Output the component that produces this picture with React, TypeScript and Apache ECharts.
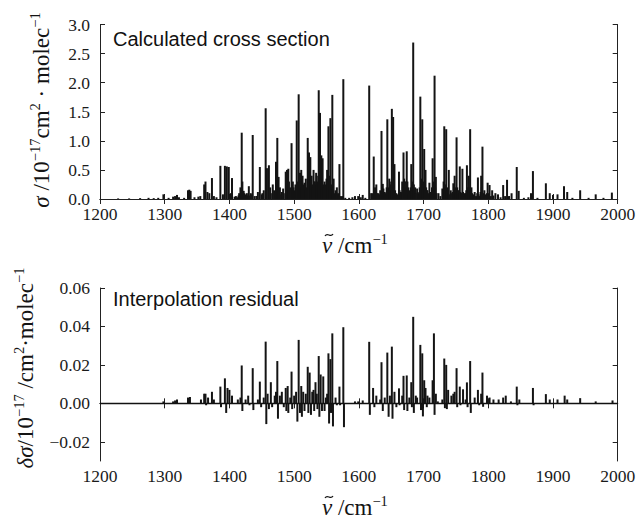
import React, { useEffect, useRef } from "react";
import * as echarts from "echarts";

// Calculated cross section sticks: [wavenumber / cm^-1, sigma / 1e-17 cm^2 molec^-1]
const crossSection: [number, number][] = [
  [1228, 0.01], [1245, 0.01], [1262, 0.015], [1275, 0.02], [1283, 0.015], [1290, 0.02], [1298, 0.08],
  [1306, 0.02], [1313, 0.04], [1316, 0.05], [1319, 0.07], [1322, 0.03], [1330, 0.02], [1336, 0.15],
  [1338, 0.16], [1340, 0.14], [1346, 0.03], [1352, 0.04], [1355, 0.05],
  [1361, 0.25], [1363, 0.3], [1366, 0.12], [1369, 0.1], [1373, 0.36], [1376, 0.05], [1380, 0.03],
  [1386, 0.57], [1390, 0.08], [1393, 0.57], [1396, 0.56], [1399, 0.55], [1402, 0.1], [1404, 0.36],
  [1408, 0.04], [1410, 0.05], [1412, 0.03], [1414, 0.06], [1415, 0.1], [1417, 0.2], [1419, 1.14],
  [1420, 0.3], [1422, 0.14], [1423, 0.1], [1425, 0.08], [1427, 0.1], [1428, 0.06], [1430, 0.22],
  [1432, 0.06], [1433, 0.1], [1435, 0.08], [1436, 1.1], [1439, 0.05], [1442, 0.05], [1444, 0.12],
  [1447, 0.55], [1450, 0.08], [1451, 0.1], [1453, 0.15], [1456, 1.56], [1458, 0.53], [1461, 0.58],
  [1463, 0.2], [1466, 0.1], [1467, 0.25], [1469, 0.15], [1472, 0.64], [1474, 1.05], [1476, 0.38],
  [1478, 0.2], [1480, 0.08], [1481, 0.12], [1483, 0.18], [1484, 0.1], [1487, 0.47], [1489, 0.5],
  [1491, 0.52], [1492, 0.3], [1494, 0.2], [1496, 0.96], [1498, 0.3], [1499, 0.2], [1501, 0.15],
  [1502, 0.25], [1504, 1.35], [1506, 0.3], [1507, 1.8], [1509, 0.45], [1510, 0.2], [1511, 0.5],
  [1512, 0.3], [1513, 0.4], [1515, 0.25], [1516, 0.28], [1517, 0.15], [1518, 0.35], [1519, 0.2],
  [1521, 1.05], [1522, 0.3], [1523, 0.8], [1525, 0.72], [1526, 0.35], [1527, 0.4], [1528, 0.25],
  [1529, 0.2], [1530, 0.5], [1531, 0.3], [1532, 0.3], [1533, 0.25], [1534, 0.45], [1535, 0.4],
  [1536, 0.3], [1537, 0.25], [1538, 1.87], [1539, 0.35], [1540, 1.48], [1541, 0.4], [1542, 0.75],
  [1543, 0.3], [1544, 0.7], [1545, 0.25], [1546, 0.2], [1547, 0.3], [1548, 0.15], [1549, 0.25],
  [1550, 0.35], [1551, 0.5], [1552, 0.3], [1553, 1.25], [1554, 0.4], [1555, 0.3], [1556, 1.39],
  [1557, 0.2], [1558, 0.25], [1559, 1.79], [1560, 0.2], [1561, 0.35], [1562, 0.1], [1564, 0.15],
  [1565, 0.12], [1566, 0.2], [1567, 0.08], [1568, 0.1], [1570, 0.6], [1571, 0.05], [1574, 0.05],
  [1576, 2.06], [1579, 0.02], [1585, 0.02], [1590, 0.03], [1594, 0.05], [1599, 0.05], [1603, 0.03],
  [1606, 0.07], [1610, 0.02], [1616, 1.95], [1619, 0.1], [1621, 0.1], [1623, 0.73], [1624, 0.15],
  [1625, 0.2], [1627, 0.25], [1628, 0.1], [1630, 0.1], [1632, 0.08], [1633, 0.15], [1635, 1.17],
  [1636, 0.2], [1637, 0.26], [1638, 0.18], [1640, 0.12], [1641, 0.1], [1643, 0.2], [1644, 1.37],
  [1645, 0.15], [1646, 0.2], [1647, 0.35], [1648, 0.25], [1649, 0.15], [1650, 0.3], [1651, 1.55],
  [1652, 0.3], [1653, 1.41], [1654, 0.2], [1655, 0.6], [1656, 0.15], [1658, 0.1], [1660, 0.08],
  [1662, 0.47], [1663, 0.15], [1665, 0.12], [1666, 0.1], [1667, 0.3], [1668, 0.2], [1669, 0.8],
  [1670, 0.35], [1671, 0.3], [1672, 0.2], [1673, 0.3], [1674, 0.82], [1675, 0.3], [1676, 0.2],
  [1677, 0.1], [1678, 0.15], [1680, 0.2], [1681, 0.6], [1682, 0.15], [1683, 0.3], [1684, 2.69],
  [1685, 0.25], [1686, 0.15], [1687, 0.2], [1688, 0.1], [1690, 0.18], [1691, 0.12], [1692, 0.1],
  [1694, 0.2], [1695, 1.76], [1696, 0.35], [1697, 0.3], [1698, 1.37], [1699, 0.25], [1700, 0.3],
  [1701, 0.86], [1702, 0.2], [1703, 0.5], [1704, 0.2], [1705, 0.15], [1706, 0.15], [1707, 0.1],
  [1709, 0.28], [1710, 0.1], [1711, 0.12], [1712, 0.08], [1713, 0.2], [1714, 0.7], [1715, 0.3],
  [1717, 2.12], [1718, 0.2], [1719, 0.38], [1720, 0.1], [1723, 0.1], [1726, 0.05], [1729, 0.18],
  [1730, 0.12], [1731, 0.3], [1732, 1.25], [1733, 0.25], [1734, 0.2], [1735, 1.2], [1736, 0.15],
  [1737, 0.2], [1738, 0.1], [1739, 0.5], [1741, 0.08], [1742, 0.15], [1744, 0.1], [1745, 0.12],
  [1746, 0.27], [1747, 0.2], [1748, 0.4], [1749, 0.15], [1750, 0.2], [1751, 1.06], [1752, 0.2],
  [1753, 0.15], [1754, 0.1], [1755, 0.15], [1756, 0.56], [1757, 0.12], [1758, 0.1], [1759, 0.1],
  [1760, 0.52], [1761, 0.12], [1762, 0.08], [1763, 0.1], [1765, 0.1], [1766, 0.15], [1767, 0.58],
  [1768, 0.2], [1769, 0.15], [1770, 0.4], [1771, 0.2], [1772, 1.2], [1773, 0.15], [1774, 0.2],
  [1775, 0.1], [1777, 0.08], [1779, 0.12], [1781, 0.05], [1783, 0.1], [1784, 0.37], [1785, 0.08],
  [1786, 0.05], [1788, 0.12], [1789, 0.4], [1790, 0.2], [1791, 0.9], [1792, 0.1], [1794, 0.15],
  [1796, 0.08], [1798, 0.1], [1799, 0.28], [1800, 0.1], [1802, 0.24], [1804, 0.05], [1806, 0.15],
  [1808, 0.06], [1811, 0.1], [1815, 0.08], [1819, 0.03], [1823, 0.24], [1826, 0.05], [1829, 0.33],
  [1832, 0.05], [1836, 0.1], [1844, 0.55], [1847, 0.14], [1855, 0.02], [1862, 0.03], [1866, 0.1],
  [1869, 0.48], [1876, 0.02], [1889, 0.27], [1895, 0.1], [1900, 0.07], [1907, 0.08], [1917, 0.22],
  [1922, 0.12], [1930, 0.02], [1942, 0.15], [1955, 0.02], [1966, 0.08], [1978, 0.02], [1991, 0.11],
];

// Interpolation residual sticks: [wavenumber / cm^-1, delta sigma / 1e-17 cm^2 molec^-1]
const residual: [number, number][] = [
  [1298, 0.001], [1313, 0.001], [1316, 0.0015], [1319, 0.002], [1336, 0.003], [1339, 0.0033],
  [1356, 0.002], [1361, 0.005], [1363, 0.005], [1364, -0.001], [1367, 0.003], [1373, 0.006],
  [1376, 0.002], [1386, 0.0087], [1387, -0.002], [1393, 0.013], [1395, -0.005], [1397, 0.008],
  [1400, 0.007], [1404, 0.004], [1413, 0.002], [1417, 0.003], [1419, 0.0197], [1420, -0.004],
  [1425, 0.002], [1429, 0.004], [1431, -0.001], [1436, 0.0183], [1437, -0.0035], [1444, 0.002],
  [1447, 0.0113], [1449, -0.002], [1453, 0.003], [1456, 0.0321], [1457, -0.0108], [1459, 0.005],
  [1461, -0.003], [1464, 0.011], [1466, -0.002], [1470, 0.004], [1472, 0.006], [1474, 0.022],
  [1475, -0.008], [1478, 0.004], [1481, 0.006], [1484, -0.002], [1487, 0.008], [1488, -0.004],
  [1490, 0.009], [1491, -0.005], [1494, 0.003], [1496, 0.0165], [1497, -0.003], [1500, 0.004],
  [1503, 0.006], [1505, -0.0095], [1507, 0.033], [1509, -0.005], [1511, 0.009], [1512, -0.007],
  [1514, 0.006], [1516, -0.004], [1518, 0.005], [1521, 0.019], [1522, -0.005], [1524, 0.016],
  [1526, -0.006], [1528, 0.006], [1530, 0.007], [1531, -0.004], [1533, 0.011], [1535, 0.005],
  [1536, -0.003], [1538, 0.0246], [1539, -0.007], [1541, 0.015], [1543, -0.004], [1545, 0.014],
  [1547, -0.004], [1549, 0.003], [1551, 0.005], [1553, 0.026], [1554, -0.0105], [1556, 0.023],
  [1557, -0.005], [1559, 0.0364], [1560, -0.012], [1564, 0.003], [1566, -0.001], [1570, 0.0087],
  [1571, -0.001], [1576, 0.0396], [1577, -0.0124], [1594, 0.001], [1599, 0.001], [1606, 0.0015],
  [1616, 0.032], [1617, -0.006], [1622, 0.008], [1624, -0.002], [1627, 0.004], [1633, 0.002],
  [1635, 0.0214], [1637, -0.004], [1640, 0.003], [1644, 0.0264], [1646, -0.007], [1648, 0.004],
  [1651, 0.0295], [1652, -0.008], [1655, 0.006], [1658, -0.002], [1662, 0.0078], [1663, -0.001],
  [1667, 0.004], [1669, 0.0143], [1670, -0.0035], [1674, 0.0145], [1675, -0.004], [1678, 0.003],
  [1681, 0.011], [1682, -0.002], [1684, 0.045], [1685, -0.005], [1688, 0.004], [1690, 0.003],
  [1695, 0.0304], [1696, -0.0035], [1698, 0.026], [1699, -0.0068], [1701, 0.012], [1703, 0.008],
  [1705, -0.002], [1706, 0.004], [1709, 0.003], [1714, 0.012], [1716, 0.0364], [1717, -0.006],
  [1719, 0.005], [1722, 0.001], [1729, 0.002], [1732, 0.0233], [1733, -0.0025], [1735, 0.02],
  [1736, -0.003], [1738, 0.007], [1743, 0.004], [1746, 0.005], [1748, 0.006], [1751, 0.0183],
  [1752, -0.002], [1756, 0.0087], [1757, -0.001], [1761, 0.0073], [1765, 0.002], [1767, 0.0109],
  [1768, -0.002], [1772, 0.022], [1773, -0.005], [1779, 0.003], [1784, 0.007], [1786, -0.001],
  [1789, 0.005], [1791, 0.016], [1792, -0.0018], [1798, 0.004], [1802, 0.003], [1808, 0.002],
  [1816, 0.002], [1823, 0.003], [1827, 0.004], [1835, 0.001], [1844, 0.0087], [1845, -0.001],
  [1848, 0.002], [1869, 0.008], [1870, -0.001], [1889, 0.0048], [1895, 0.002], [1907, 0.002],
  [1918, 0.004], [1922, 0.002], [1942, 0.0027], [1966, 0.001], [1992, 0.0015],
];

const residualTicks = [-0.02, 0, 0.02, 0.04, 0.06];
const panelLabels = ["Calculated cross section", "Interpolation residual"];

const SERIF = "Liberation Serif";
const SANS = "Liberation Sans";
const INK = "#141414";

const richStyles = {
  it: { fontFamily: SERIF, fontStyle: "italic", fontSize: 23, lineHeight: 28, fill: INK },
  n: { fontFamily: SERIF, fontSize: 23, lineHeight: 28, fill: INK },
  sup: { fontFamily: SERIF, fontSize: 14.5, lineHeight: 17, verticalAlign: "top", fill: INK },
};

// a small tilde accent drawn as a curve above the italic nu
function tilde(cx: number, cy: number) {
  return {
    type: "bezierCurve",
    shape: { x1: cx - 4, y1: cy + 1, cpx1: cx - 1.5, cpy1: cy - 3.5, cpx2: cx + 1.5, cpy2: cy + 3.5, x2: cx + 4, y2: cy - 1 },
    style: { stroke: INK, lineWidth: 1.2, fill: "none" },
    silent: true,
  };
}

export default function App() {
  const ref = useRef<HTMLDivElement>(null);
  useEffect(() => {
    if (!ref.current) return;
    const chart = echarts.init(ref.current, null, { renderer: "svg" });
    const grids = [
      { left: 100, top: 24.5, width: 517.7, height: 174.5 },
      { left: 100, top: 288, width: 517.7, height: 173 },
    ];
    const axisLine = { show: true, lineStyle: { color: "#222", width: 1 } };
    const tick = { show: true, inside: true, length: 5, lineStyle: { color: "#222", width: 1 } };
    const labelText = () => ({ show: true, fontFamily: SERIF, fontSize: 17.5, color: "#1a1a1a" });
    const xLabel = () => ({ ...labelText(), margin: 6, formatter: (v: number) => String(v) });
    const xBase = () => ({
      type: "value", min: 1200, max: 2000, interval: 100,
      splitLine: { show: false }, axisLine, axisTick: tick,
    });
    const fmtRes = (v: number) =>
      Math.abs(v) < 1e-9 ? "0.00" : v < 0 ? "\u2212" + Math.abs(v).toFixed(2) : v.toFixed(2);

    const option: any = {
      animation: false,
      backgroundColor: "#ffffff",
      textStyle: { fontFamily: SERIF, fontSize: 17.5, color: "#1a1a1a" },
      grid: grids,
      xAxis: [
        { ...xBase(), gridIndex: 0, position: "bottom", axisLabel: xLabel() },
        { ...xBase(), gridIndex: 0, position: "top", axisLabel: { show: false } },
        { ...xBase(), gridIndex: 1, position: "bottom", axisLabel: xLabel() },
        { ...xBase(), gridIndex: 1, position: "top", axisLabel: { show: false } },
      ],
      yAxis: [
        {
          type: "value", gridIndex: 0, position: "left", min: 0, max: 3, interval: 0.5,
          splitLine: { show: false }, axisLine, axisTick: tick,
          axisLabel: { ...labelText(), margin: 10, showMinLabel: true, showMaxLabel: true, formatter: (v: number) => v.toFixed(1) },
        },
        {
          type: "value", gridIndex: 0, position: "right", min: 0, max: 3, interval: 0.5,
          splitLine: { show: false }, axisLine, axisTick: tick, axisLabel: { show: false },
        },
        {
          type: "value", gridIndex: 1, position: "left", min: -0.03, max: 0.06,
          splitLine: { show: false }, axisLine,
          axisTick: { ...tick, customValues: residualTicks },
          axisLabel: { ...labelText(), margin: 10, customValues: residualTicks, formatter: fmtRes },
        },
        {
          type: "value", gridIndex: 1, position: "right", min: -0.03, max: 0.06,
          splitLine: { show: false }, axisLine,
          axisTick: { ...tick, customValues: residualTicks }, axisLabel: { show: false },
        },
      ],
      series: [
        {
          type: "bar", xAxisIndex: 0, yAxisIndex: 0, data: crossSection,
          barWidth: 2, itemStyle: { color: INK }, silent: true,
        },
        {
          type: "bar", xAxisIndex: 2, yAxisIndex: 2, data: residual,
          barWidth: 2, itemStyle: { color: INK }, silent: true,
          markLine: {
            silent: true, symbol: "none", label: { show: false },
            lineStyle: { color: "#111", width: 1.4, type: "solid" },
            data: [{ yAxis: 0 }],
          },
        },
      ],
      graphic: [
        {
          type: "text", x: 113, y: 29,
          style: { text: panelLabels[0], fontFamily: SANS, fontSize: 20, fill: "#111", align: "left", verticalAlign: "top" },
        },
        {
          type: "text", x: 113, y: 289,
          style: { text: panelLabels[1], fontFamily: SANS, fontSize: 20, fill: "#111", align: "left", verticalAlign: "top" },
        },
        {
          type: "text", x: 322, y: 245,
          style: { text: "{it|\u03BD}{n| /cm}{sup|\u22121}", rich: richStyles, align: "left", verticalAlign: "middle" },
        },
        tilde(329, 235),
        {
          type: "text", x: 322, y: 507,
          style: { text: "{it|\u03BD}{n| /cm}{sup|\u22121}", rich: richStyles, align: "left", verticalAlign: "middle" },
        },
        tilde(329, 497),
        {
          type: "text", x: 41, y: 110, rotation: Math.PI / 2,
          style: {
            text: "{it|\u03C3}{n| /10}{sup|\u221217}{n|cm}{sup|2}{n| \u00B7 molec}{sup|\u22121}",
            rich: richStyles, align: "center", verticalAlign: "middle",
          },
        },
        {
          type: "text", x: 25, y: 368, rotation: Math.PI / 2,
          style: {
            text: "{it|\u03B4\u03C3}{n|/10}{sup|\u221217}{n| /cm}{sup|2}{n|\u00B7molec}{sup|\u22121}",
            rich: richStyles, align: "center", verticalAlign: "middle",
          },
        },
      ],
    };
    chart.setOption(option);
    return () => chart.dispose();
  }, []);
  return <div ref={ref} style={{ position: "fixed", left: 0, top: 0, width: 644, height: 519 }} />;
}
